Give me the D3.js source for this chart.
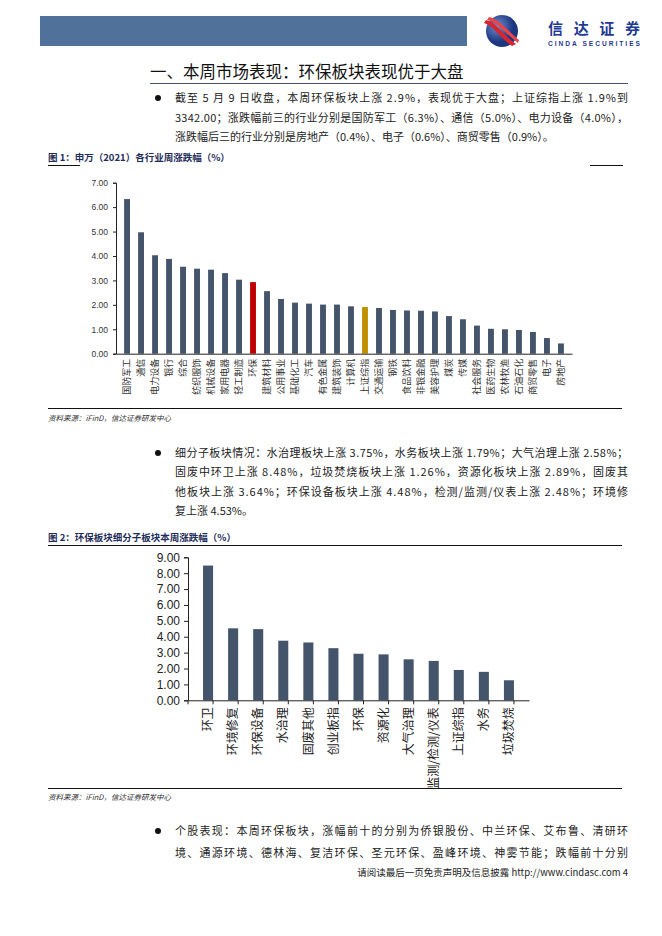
<!DOCTYPE html>
<html>
<head>
<meta charset="utf-8">
<script src="https://cdn.jsdelivr.net/npm/d3@7"></script>
<style>
  body { margin: 0; background: #fff; }
  svg { display: block; }
  .cn { font-family: "Noto Sans CJK SC", sans-serif; }
  .num { font-family: "Liberation Sans", Arial, sans-serif; }
</style>
</head>
<body>
<div id="page"></div>
<script>
// chart 1: 申万一级行业周涨跌幅
const industries = ['国防军工', '通信', '电力设备', '银行', '综合', '纺织服饰', '机械设备', '家用电器',
    '轻工制造', '环保', '建筑材料', '公用事业', '基础化工', '汽车', '有色金属', '建筑装饰', '计算机',
    '上证综指', '交通运输', '钢铁', '食品饮料', '非银金融', '美容护理', '煤炭', '传媒', '社会服务',
    '医药生物', '农林牧渔', '石油石化', '商贸零售', '电子', '房地产'];
const industry_change = [6.33, 4.97, 4.03, 3.88, 3.56, 3.48, 3.44, 3.30, 3.03, 2.93, 2.56, 2.24,
    2.09, 2.05, 2.01, 2.01, 1.94, 1.91, 1.87, 1.79, 1.77, 1.76, 1.73, 1.54, 1.41, 1.15, 1.02, 1.00,
    0.97, 0.89, 0.64, 0.42];
const ticks1 = [0, 1, 2, 3, 4, 5, 6, 7];

// chart 2: 环保细分子板块
const sub_sectors = ['环卫', '环境修复', '环保设备', '水治理', '固废其他', '创业板指', '环保', '资源化',
    '大气治理', '监测/检测/仪表', '上证综指', '水务', '垃圾焚烧'];
const sub_change = [8.48, 4.53, 4.48, 3.75, 3.64, 3.28, 2.93, 2.89, 2.58, 2.48, 1.91, 1.79, 1.26];
const ticks2 = [0, 1, 2, 3, 4, 5, 6, 7, 8, 9];

const para1 = ['截至 5 月 9 日收盘，本周环保板块上涨 2.9%，表现优于大盘；上证综指上涨 1.9%到',
    '3342.00；涨跌幅前三的行业分别是国防军工（6.3%）、通信（5.0%）、电力设备（4.0%），',
    '涨跌幅后三的行业分别是房地产（0.4%）、电子（0.6%）、商贸零售（0.9%）。'];
const para2 = ['细分子板块情况：水治理板块上涨 3.75%，水务板块上涨 1.79%；大气治理上涨 2.58%；',
    '固废中环卫上涨 8.48%，垃圾焚烧板块上涨 1.26%，资源化板块上涨 2.89%，固废其',
    '他板块上涨 3.64%；环保设备板块上涨 4.48%，检测/监测/仪表上涨 2.48%；环境修',
    '复上涨 4.53%。'];
const para3 = ['个股表现：本周环保板块，涨幅前十的分别为侨银股份、中兰环保、艾布鲁、清研环',
    '境、通源环境、德林海、复洁环保、圣元环保、盈峰环境、神雾节能；跌幅前十分别'];

const barColor = '#44546a';

var svg = d3.select('#page').append('svg')
    .attr('width', 662).attr('height', 936);

// header band + logo
svg.append('rect').attr('x', 40).attr('y', 16).attr('width', 427).attr('height', 30).attr('fill', '#50719a');
var defs = svg.append('defs');
var grad = defs.append('radialGradient').attr('id', 'lg').attr('cx', '35%').attr('cy', '35%');
grad.append('stop').attr('offset', '0%').attr('stop-color', '#6f8fd0');
grad.append('stop').attr('offset', '100%').attr('stop-color', '#1d3680');
svg.append('circle').attr('cx', 502).attr('cy', 31).attr('r', 16).attr('fill', 'url(#lg)');
svg.append('path').attr('d', 'M486,20 C496,22 502,34 516,44 L512,46 C500,38 494,26 484,23 Z').attr('fill', '#d8262e');
svg.append('path').attr('d', 'M489,17 C499,19 507,30 519,40 L518,43 C505,33 497,22 487,20 Z').attr('fill', '#e8444a');
svg.append('text').attr('class', 'cn').attr('x', 548).attr('y', 34).attr('font-size', 15)
    .attr('font-weight', 'bold').attr('fill', '#1f3a93').attr('textLength', 92).text('信达证券');
svg.append('text').attr('class', 'num').attr('x', 548).attr('y', 46).attr('font-size', 6.6)
    .attr('font-weight', 'bold').attr('fill', '#1f3a93').attr('textLength', 92).text('CINDA SECURITIES');

// section title
svg.append('text').attr('class', 'cn').attr('x', 150).attr('y', 78).attr('font-size', 16.5)
    .attr('fill', '#111').text('一、本周市场表现：环保板块表现优于大盘');
svg.append('line').attr('x1', 150).attr('x2', 628).attr('y1', 83.5).attr('y2', 83.5)
    .attr('stroke', '#44546a').attr('stroke-width', 1);

function paragraph(lines, top, step, justifyLast) {
    svg.append('circle').attr('cx', 158).attr('cy', top - 4).attr('r', 3).attr('fill', '#111');
    lines.forEach(function (t, i) {
        var el = svg.append('text').attr('class', 'cn').attr('x', 175).attr('y', top + i * step)
            .attr('font-size', 11).attr('fill', '#222').text(t);
        if (i < lines.length - 1 || justifyLast) el.attr('textLength', 453).attr('lengthAdjust', 'spacing');
    });
}
paragraph(para1, 102, 19.5, false);
paragraph(para2, 457, 19.3, false);
paragraph(para3, 835, 21.5, true);

function caption(text, y) {
    svg.append('text').attr('class', 'cn').attr('x', 48).attr('y', y).attr('font-size', 9.5)
        .attr('font-weight', 'bold').attr('fill', '#1f2d5a').text(text);
}
function source(y) {
    svg.append('text').attr('class', 'cn').attr('x', 48).attr('y', y).attr('font-size', 7.5)
        .attr('font-style', 'italic').attr('fill', '#333').text('资料来源：iFinD，信达证券研发中心');
}

// ---------- chart 1 ----------
caption('图 1：申万（2021）各行业周涨跌幅（%）', 161);
svg.append('line').attr('x1', 48).attr('x2', 80).attr('y1', 165.5).attr('y2', 165.5).attr('stroke', '#111');
svg.append('line').attr('x1', 590).attr('x2', 623).attr('y1', 165.5).attr('y2', 165.5).attr('stroke', '#111');

var x1 = d3.scaleBand().domain(industries).range([116, 572]).padding(0.58);
var y1 = d3.scaleLinear().domain([0, 7]).range([353.7, 182.7]);

svg.append('g').selectAll('rect')
    .data(industries)
    .enter().append('rect')
    .attr('x', function (d) { return x1(d); })
    .attr('y', function (d, i) { return y1(industry_change[i]); })
    .attr('width', x1.bandwidth())
    .attr('height', function (d, i) { return y1(0) - y1(industry_change[i]); })
    .attr('fill', function (d) { return d === '环保' ? '#c00000' : (d === '上证综指' ? '#bf9000' : barColor); });

var ax1 = svg.append('g').attr('transform', 'translate(116,0)')
    .call(d3.axisLeft(y1).tickValues(ticks1).tickFormat(d3.format('.2f')).tickSize(3).tickSizeOuter(3));
ax1.selectAll('text').attr('class', 'num').attr('font-size', 8.5).attr('fill', '#333').attr('x', -8);

var bx1 = svg.append('g').attr('transform', 'translate(0,353.7)')
    .call(d3.axisBottom(x1).tickSize(0).tickSizeOuter(0));
bx1.selectAll('text').attr('class', 'cn').attr('font-size', 9).attr('fill', '#333')
    .attr('transform', 'rotate(-90)').attr('text-anchor', 'end').attr('x', -5).attr('y', 0).attr('dy', '0.35em');
svg.selectAll('.domain').attr('stroke', '#222');
svg.selectAll('.tick line').attr('stroke', '#222');

svg.append('line').attr('x1', 48).attr('x2', 622).attr('y1', 408.5).attr('y2', 408.5).attr('stroke', '#111');
source(421);

// ---------- chart 2 ----------
caption('图 2：环保板块细分子板块本周涨跌幅（%）', 541);
svg.append('line').attr('x1', 48).attr('x2', 622).attr('y1', 545.5).attr('y2', 545.5).attr('stroke', '#111');

var x2 = d3.scaleBand().domain(sub_sectors).range([188, 529]).padding(0.6);
var y2 = d3.scaleLinear().domain([0, 9]).range([700.3, 557.3]);

svg.append('g').selectAll('rect')
    .data(sub_sectors)
    .enter().append('rect')
    .attr('x', function (d) { return x2(d); })
    .attr('y', function (d, i) { return y2(sub_change[i]); })
    .attr('width', x2.bandwidth())
    .attr('height', function (d, i) { return y2(0) - y2(sub_change[i]); })
    .attr('fill', barColor);

var ax2 = svg.append('g').attr('transform', 'translate(188,0)')
    .call(d3.axisLeft(y2).tickValues(ticks2).tickFormat(d3.format('.2f')).tickSize(4).tickSizeOuter(4));
ax2.selectAll('text').attr('class', 'num').attr('font-size', 12).attr('fill', '#222').attr('x', -8);

var bx2 = svg.append('g').attr('transform', 'translate(0,700.3)')
    .call(d3.axisBottom(x2).tickSize(0).tickSizeOuter(0));
bx2.selectAll('text').attr('class', 'cn').attr('font-size', 12).attr('fill', '#222')
    .attr('transform', 'rotate(-90)').attr('text-anchor', 'end').attr('x', -7).attr('y', 0).attr('dy', '0.35em');
// category separator ticks
bx2.selectAll('.sep').data(sub_sectors.concat(['end']))
    .enter().append('line')
    .attr('x1', function (d, i) { return 188 + i * x2.step(); })
    .attr('x2', function (d, i) { return 188 + i * x2.step(); })
    .attr('y1', 0).attr('y2', 4).attr('stroke', '#222');
svg.selectAll('.domain').attr('stroke', '#222');
svg.selectAll('.tick line').attr('stroke', '#222');

svg.append('line').attr('x1', 48).attr('x2', 622).attr('y1', 788.5).attr('y2', 788.5).attr('stroke', '#111');
source(800);

// footer
svg.append('text').attr('class', 'cn').attr('x', 628).attr('y', 876).attr('font-size', 9.5)
    .attr('text-anchor', 'end').attr('fill', '#222').text('请阅读最后一页免责声明及信息披露 http://www.cindasc.com  4');
</script>
</body>
</html>
